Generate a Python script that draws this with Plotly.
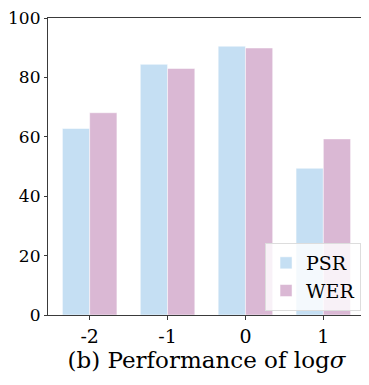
import plotly.graph_objects as go

categories = [-2, -1, 0, 1]
tick_labels = ["-2", "-1", "0", "1"]
psr = [62.8, 84.4, 90.5, 49.4]
wer = [68.1, 83.0, 89.9, 59.3]

font_family = "DejaVu Serif"

fig = go.Figure()
fig.add_trace(go.Bar(x=categories, y=psr, name="PSR", marker=dict(color="#c5dff3", line=dict(color="white", width=0.5))))
fig.add_trace(go.Bar(x=categories, y=wer, name="WER", marker=dict(color="#dab8d4", line=dict(color="white", width=0.5))))

# page body has an 8px default margin; figure coordinates are offset accordingly
fig.update_layout(
    width=361, height=377,
    margin=dict(l=40, r=4, t=10, b=70, autoexpand=False),
    barmode="group", bargap=0.3, bargroupgap=0,
    plot_bgcolor="white", paper_bgcolor="white",
    font=dict(family=font_family, size=18, color="black"),
    legend=dict(x=0.9875, y=0.0135, xanchor="right", yanchor="bottom",
                bgcolor="rgba(255,255,255,0.8)", bordercolor="#dddddd", borderwidth=1,
                font=dict(family=font_family, size=19), itemwidth=30, tracegroupgap=0),
    showlegend=True,
)
fig.update_xaxes(
    range=[-2.535, 1.535], tickvals=categories, ticktext=tick_labels, automargin=False,
    showline=True, linecolor="#3a3a3a", linewidth=1.2, mirror=True,
    ticks="outside", ticklen=4, tickcolor="#3a3a3a", showgrid=False, zeroline=False,
    tickfont=dict(family=font_family, size=19),
    title=dict(text="(b) Performance of log<i>σ</i>", font=dict(family=font_family, size=23), standoff=4),
)
fig.update_yaxes(
    range=[0, 100], tickvals=[0, 20, 40, 60, 80, 100], automargin=False,
    showline=True, linecolor="#3a3a3a", linewidth=1.2, mirror=True,
    ticks="outside", ticklen=3, tickcolor="#3a3a3a", showgrid=False, zeroline=False,
    tickfont=dict(family=font_family, size=17), ticklabeloverflow="allow",
)
fig.write_html("out.html")
